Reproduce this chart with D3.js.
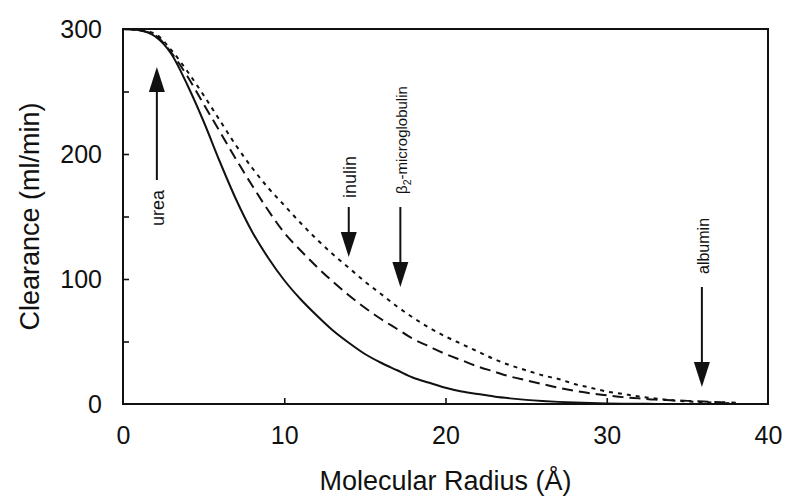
<!DOCTYPE html>
<html><head><meta charset="utf-8">
<script src="https://cdn.jsdelivr.net/npm/d3@7"></script>
<style>body{margin:0;background:#fff}svg{display:block}text{font-family:"Liberation Sans",Arial,sans-serif;fill:#111}</style>
</head><body><svg id="c" width="792" height="499"></svg>
<script>
const radius = [0,1,2,3,4,5,6,7,8,9,10,11,12,13,14,15,16,17,18,19,20,21,22,23,24,25,26,27,28,29,30,31,32,33,34,35,36,37,38];
const solidVals  = [300,299,294,280,255,226,194,164,138,117,99,84,71,59,49,40,33,27,21,17,13,10,8,6,4.5,3.3,2.4,1.7,1.2,0.8,0.5,0.3,0.2,0.1,0,0,0,0,0];
const dashedVals = [300,299,295,281,262,240,218,196,175,155,137,123,110,98,87,77,68,60,52,46,40,35,30,26,22,19,16,13,10.5,8.5,7,5.5,4.5,3.5,3,2.5,2,1.5,1];
const dottedVals = [300,299,296,283,266,247,227,207,189,173,159,145,132,120,109,98,88,78,69,61,54,48,42,36,31,27,23,20,16,13,10,8,6,4.5,3,2,1.5,1,0.5];
const xTicks = [0,10,20,30,40];
const yTicks = [0,100,200,300];
const yMinorTicks = [50,150,250];
const markers = [
  {name:"urea", r:2.1},
  {name:"inulin", r:14.0},
  {name:"β2-microglobulin", r:17.2},
  {name:"albumin", r:35.9}
];

const svg = d3.select("#c");
const L=123, R=768, T=29, B=404;
const x = d3.scaleLinear().domain([0,40]).range([L,R]);
const y = d3.scaleLinear().domain([0,300]).range([B,T]);

const gx = svg.append("g").attr("transform",`translate(0,${B})`)
  .call(d3.axisBottom(x).tickValues(xTicks).tickSize(-6).tickPadding(22).tickFormat(d3.format("d")));
const gy = svg.append("g").attr("transform",`translate(${L},0)`)
  .call(d3.axisLeft(y).tickValues(yTicks.concat(yMinorTicks)).tickSize(-6).tickPadding(21)
    .tickFormat(d=>yTicks.includes(d)?d:""));
[gx,gy].forEach(g=>{g.select(".domain").remove();g.selectAll("line").attr("stroke","#111").attr("stroke-width",1.6);
  g.selectAll("text").style("font-size","25px").attr("fill","#111").style("font-family","'Liberation Sans',Arial,sans-serif");});
gx.selectAll(".tick").filter(d=>d===0||d===40).select("line").remove();
gy.selectAll(".tick").filter(d=>d===0||d===300).select("line").remove();

svg.append("rect").attr("x",L).attr("y",T).attr("width",R-L).attr("height",B-T)
  .attr("fill","none").attr("stroke","#111").attr("stroke-width",2);

const line = d3.line().x(d=>x(d[0])).y(d=>y(d[1])).curve(d3.curveMonotoneX);
const series = [
  {vals:solidVals, dash:null},
  {vals:dashedVals, dash:"11,6"},
  {vals:dottedVals, dash:"4,5"}
];
series.forEach(s=>{
  svg.append("path").datum(radius.map((r,i)=>[r,s.vals[i]]))
    .attr("d",line).attr("fill","none").attr("stroke","#111").attr("stroke-width",2)
    .attr("stroke-dasharray",s.dash);
});

function arrow(xp, y1, y2){
  const up = y2<y1, hl=25, hw=8;
  const base = up? y2+hl : y2-hl;
  svg.append("line").attr("x1",xp).attr("x2",xp).attr("y1",y1).attr("y2",base).attr("stroke","#111").attr("stroke-width",2);
  svg.append("path").attr("d",`M${xp-hw},${base}L${xp+hw},${base}L${xp},${y2}Z`).attr("fill","#111");
}
function vlabel(xp, yBottom, txt, size){
  const t = svg.append("text").attr("transform",`translate(${xp+7},${yBottom}) rotate(-90)`)
    .style("font-size",size+"px").attr("text-anchor","start");
  if(txt.startsWith("β2")){
    t.append("tspan").text("β");
    t.append("tspan").text("2").style("font-size",(size*0.7)+"px").attr("dy",4);
    t.append("tspan").text("-microglobulin").attr("dy",-4);
  } else t.text(txt);
}
const mk = Object.fromEntries(markers.map(m=>[m.name,m]));
arrow(x(mk["urea"].r), 180, 67);
vlabel(x(mk["urea"].r), 226, "urea", 18);
arrow(x(mk["inulin"].r), 207, 257);
vlabel(x(mk["inulin"].r), 198, "inulin", 18);
arrow(x(mk["β2-microglobulin"].r), 207, 287);
vlabel(x(mk["β2-microglobulin"].r), 194, "β2-microglobulin", 15);
arrow(x(mk["albumin"].r), 287, 387);
vlabel(x(mk["albumin"].r), 274, "albumin", 16);

svg.append("text").attr("x",(L+R)/2).attr("y",490).attr("text-anchor","middle").style("font-size","27px").text("Molecular Radius (Å)");
svg.append("text").attr("transform",`translate(39,${(T+B)/2}) rotate(-90)`).attr("text-anchor","middle").style("font-size","27px").text("Clearance (ml/min)");
</script></body></html>
